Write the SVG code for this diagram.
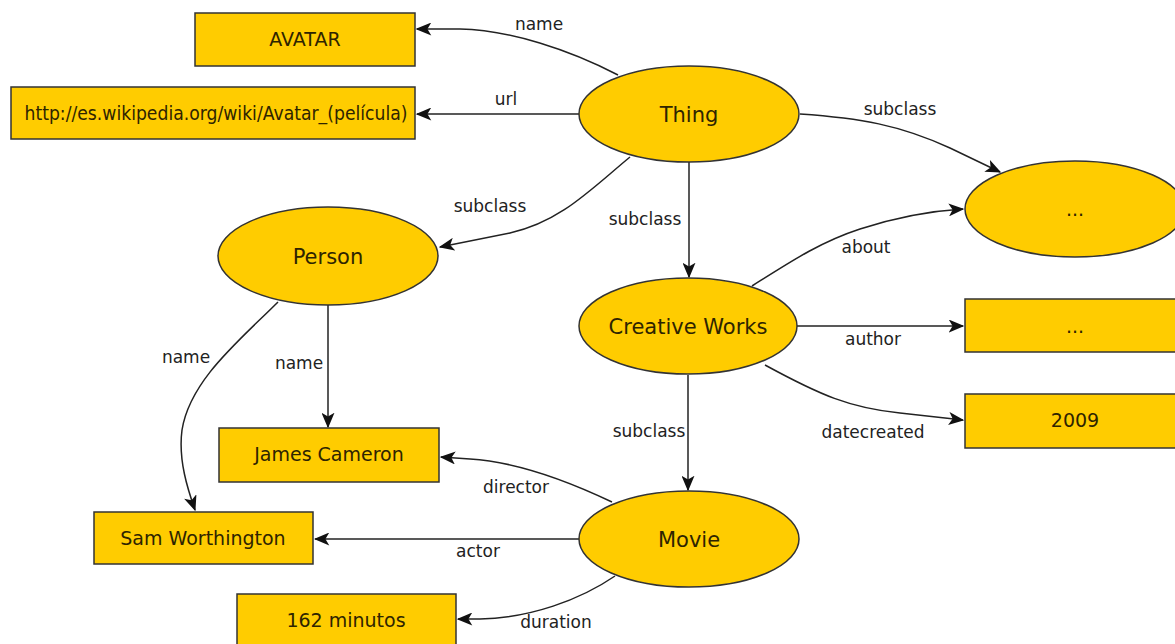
<svg xmlns="http://www.w3.org/2000/svg" width="1175" height="644" viewBox="0 0 1175 644">
<style>
.n{fill:#ffcc00;stroke:#333;stroke-width:1.5}
.nt{font-family:"DejaVu Sans",sans-serif;font-size:21px;fill:#2e2400;text-anchor:middle}
.rt{font-family:"DejaVu Sans",sans-serif;font-size:19px;fill:#2e2400;text-anchor:middle}
.e{fill:none;stroke:#222;stroke-width:1.5;marker-end:url(#a)}
.el{font-family:"DejaVu Sans",sans-serif;font-size:17px;fill:#222;text-anchor:middle}
</style>
<defs>
<marker id="a" viewBox="0 0 12 10" refX="11" refY="5" markerWidth="16" markerHeight="13" markerUnits="userSpaceOnUse" orient="auto">
<path d="M0,0 L12,5 L0,10 L3,5 z" fill="#111"/>
</marker>
</defs>
<rect width="1175" height="644" fill="#fff"/>
<g id="connectors">
<path class="e" d="M618,75 C570,50 510,30 460,29 L417,29"/>
<path class="e" d="M579,114 L417,114"/>
<path class="e" d="M630,157 C590,190 560,222 510,233 Q475,240 440,247"/>
<path class="e" d="M689,162 L689,277"/>
<path class="e" d="M800,114 C860,118 900,125 950,148 L1000,172"/>
<path class="e" d="M752,286 C790,262 820,242 860,229 C900,216 930,211 963,209"/>
<path class="e" d="M797,326 L963,326"/>
<path class="e" d="M765,365 C820,395 850,408 900,413 L963,420"/>
<path class="e" d="M328,305 L328,427"/>
<path class="e" d="M278,302 C240,340 190,380 182,430 C178,460 188,490 195,510"/>
<path class="e" d="M688,375 L688,490"/>
<path class="e" d="M612,502 C570,482 520,462 470,459 L441,457"/>
<path class="e" d="M579,539 L315,539"/>
<path class="e" d="M615,576 C580,600 530,618 480,619 L458,619"/>
<text class="el" x="539" y="30">name</text>
<text class="el" x="506" y="105">url</text>
<text class="el" x="490" y="212">subclass</text>
<text class="el" x="645" y="225">subclass</text>
<text class="el" x="900" y="115">subclass</text>
<text class="el" x="866" y="253">about</text>
<text class="el" x="873" y="345">author</text>
<text class="el" x="873" y="438">datecreated</text>
<text class="el" x="186" y="363">name</text>
<text class="el" x="299" y="369">name</text>
<text class="el" x="649" y="437">subclass</text>
<text class="el" x="516" y="493">director</text>
<text class="el" x="478" y="557">actor</text>
<text class="el" x="556" y="628">duration</text>
</g>
<g id="avatar"><rect class="n" x="195" y="13" width="220" height="53"/><text class="rt" x="305" y="46">AVATAR</text></g>
<g id="url"><rect class="n" x="11" y="87" width="404" height="52"/><text class="rt" x="216" y="120" textLength="383" lengthAdjust="spacingAndGlyphs">http://es.wikipedia.org/wiki/Avatar_(película)</text></g>
<g id="thing"><ellipse class="n" cx="689" cy="114" rx="110" ry="48"/><text class="nt" x="689" y="122">Thing</text></g>
<g id="other"><ellipse class="n" cx="1075" cy="209" rx="110" ry="48"/><text class="rt" x="1075" y="216">...</text></g>
<g id="person"><ellipse class="n" cx="328" cy="256" rx="110" ry="49"/><text class="nt" x="328" y="264">Person</text></g>
<g id="creative"><ellipse class="n" cx="688" cy="326" rx="109" ry="48"/><text class="nt" x="688" y="334">Creative Works</text></g>
<g id="author"><rect class="n" x="965" y="299" width="220" height="53"/><text class="rt" x="1075" y="333">...</text></g>
<g id="y2009"><rect class="n" x="965" y="394" width="220" height="54"/><text class="rt" x="1075" y="427">2009</text></g>
<g id="james"><rect class="n" x="219" y="428" width="220" height="54"/><text class="rt" x="329" y="461">James Cameron</text></g>
<g id="sam"><rect class="n" x="94" y="512" width="219" height="52"/><text class="rt" x="203" y="545">Sam Worthington</text></g>
<g id="movie"><ellipse class="n" cx="689" cy="539" rx="110" ry="48"/><text class="nt" x="689" y="547">Movie</text></g>
<g id="minutes"><rect class="n" x="237" y="594" width="219" height="53"/><text class="rt" x="346" y="627">162 minutos</text></g>
</svg>
